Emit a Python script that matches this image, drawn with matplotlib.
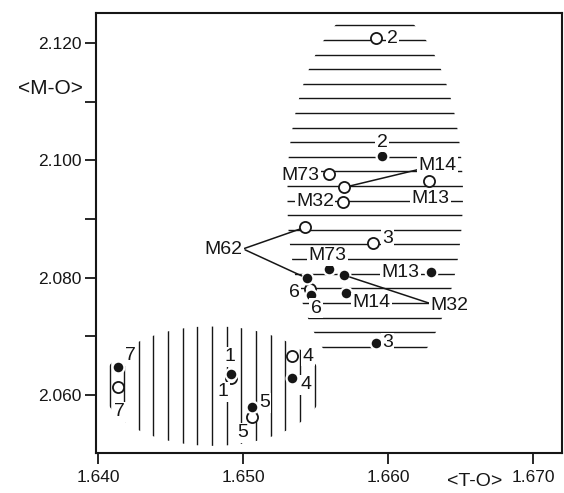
import numpy as np
import matplotlib
matplotlib.use("Agg")
import matplotlib.pyplot as plt
from matplotlib.patches import Ellipse
from matplotlib.ticker import MultipleLocator, FormatStrFormatter

plt.rcParams["font.family"] = ["Liberation Sans", "DejaVu Sans"]

INK = "#161616"

# open circles: <T-O>, <M-O>
open_names = ["2", "M73", "M14", "M13", "M32", "M62", "3", "6", "4", "7", "1", "5"]
open_x = [1.6592, 1.6559, 1.6570, 1.6628, 1.6569, 1.6543, 1.6590, 1.6546, 1.6534, 1.6414, 1.6492, 1.6506]
open_y = [2.1208, 2.0976, 2.0954, 2.0965, 2.0929, 2.0886, 2.0859, 2.0781, 2.0666, 2.0614, 2.0629, 2.0563]

# filled dots
filled_names = ["2", "M73", "M62", "M32", "M13", "M14", "6", "3", "4", "7", "1", "5"]
filled_x = [1.6596, 1.6559, 1.6544, 1.6570, 1.6630, 1.6571, 1.6547, 1.6592, 1.6534, 1.6414, 1.6492, 1.6506]
filled_y = [2.1007, 2.0815, 2.0799, 2.0804, 2.0810, 2.0774, 2.0770, 2.0689, 2.0629, 2.0648, 2.0636, 2.0580]

# label offsets in pixels (right, down) from each point
open_offsets = {
    "2": (16, 0), "M73": (-28, 1), "M14": (93, -22), "M13": (2, 18),
    "M32": (-28, 0), "M62": (-82, 22), "3": (14, -5), "6": (-15, 4),
    "4": (16, 0), "7": (1, 25), "1": (-8, 14), "5": (-9, 16),
}
filled_offsets = {
    "2": (0, -14), "M73": (-1, -13), "M62": (-82, -29), "M32": (105, 30),
    "M13": (-31, 1), "M14": (26, 10), "6": (5, 13), "3": (11, 0),
    "4": (14, 7), "7": (12, -11), "1": (-1, -17), "5": (13, -4),
}
# leader lines: name -> relative start on the label box
open_leaders = {"M14": (0.0, 0.25), "M62": (1.0, 0.5)}
filled_leaders = {"M62": (1.0, 0.5), "M32": (0.0, 0.6)}

# hatched fields
upper_field = dict(cx=1.6591, cy=2.0941, a=0.00607, b=0.0324)
upper_rows = dict(top=2.1230, step=0.00249, n=23)
lower_field = dict(cx=1.64793, cy=2.06153, a=0.00759, b=0.0102)
lower_cols = dict(left=1.6408, step=0.00101, n=15)

fig = plt.figure(figsize=(5.64, 4.93), dpi=100)
ax = fig.add_axes([0.170, 0.081, 0.8265, 0.8926])

# upper field: horizontal lines clipped to an ellipse
ell_u = Ellipse((upper_field["cx"], upper_field["cy"]), 2 * upper_field["a"], 2 * upper_field["b"],
                facecolor="none", edgecolor="none")
ax.add_patch(ell_u)
rows = upper_rows["top"] - upper_rows["step"] * np.arange(upper_rows["n"])
hl = ax.hlines(rows, upper_field["cx"] - upper_field["a"], upper_field["cx"] + upper_field["a"],
               colors=INK, lw=1.0, zorder=1)
hl.set_clip_path(ell_u)

# lower field: vertical lines clipped to an ellipse
ell_l = Ellipse((lower_field["cx"], lower_field["cy"]), 2 * lower_field["a"], 2 * lower_field["b"],
                facecolor="none", edgecolor="none")
ax.add_patch(ell_l)
cols = lower_cols["left"] + lower_cols["step"] * np.arange(lower_cols["n"])
vl = ax.vlines(cols, lower_field["cy"] - lower_field["b"], lower_field["cy"] + lower_field["b"],
               colors=INK, lw=1.0, zorder=1)
vl.set_clip_path(ell_l)

# points
ax.plot(open_x, open_y, "o", ls="none", ms=8, mfc="white", mec=INK, mew=1.3, zorder=3)
ax.plot(filled_x, filled_y, "o", ls="none", ms=8.5, mfc=INK, mec="white", mew=1.6, zorder=3)

white_box = dict(facecolor="white", edgecolor="none", pad=1.0)
clear_box = dict(facecolor="none", edgecolor="none", pad=1.0)


def put_labels(names, xs, ys, offsets, leaders, hide=()):
    for name, x, y in zip(names, xs, ys):
        dx, dy = offsets[name]
        hidden = name in hide
        arrow = None
        if name in leaders:
            arrow = dict(arrowstyle="-", color=INK, lw=1.1, shrinkA=0, shrinkB=4,
                         relpos=leaders[name])
        ax.annotate(name, (x, y), xytext=(dx * 0.72, -dy * 0.72), textcoords="offset points",
                    ha="center", va="center", fontsize=14, color="none" if hidden else INK,
                    bbox=clear_box if hidden else white_box, zorder=4, arrowprops=arrow)


put_labels(open_names, open_x, open_y, open_offsets, open_leaders)
put_labels(filled_names, filled_x, filled_y, filled_offsets, filled_leaders, hide=("M62",))

ax.set_xlim(1.63986, 1.6720)
ax.set_ylim(2.0501, 2.1251)
ax.xaxis.set_major_locator(MultipleLocator(0.01))
ax.xaxis.set_major_formatter(FormatStrFormatter("%.3f"))
ax.yaxis.set_major_locator(MultipleLocator(0.02))
ax.yaxis.set_minor_locator(MultipleLocator(0.01))
ax.yaxis.set_major_formatter(FormatStrFormatter("%.3f"))
ax.tick_params(which="both", direction="out", length=8, width=1.3, colors=INK,
               labelsize=12.5, pad=2)
ax.tick_params(axis="x", pad=4)
for s in ax.spines.values():
    s.set_linewidth(1.5)
    s.set_color(INK)

fig.text(50 / 564, 1 - 88 / 493, "<M-O>", ha="center", va="center", fontsize=15, color=INK)
fig.text(475 / 564, 1 - 482 / 493, "<T-O>", ha="center", va="center", fontsize=14, color=INK)

fig.savefig("out.png", dpi=100)
